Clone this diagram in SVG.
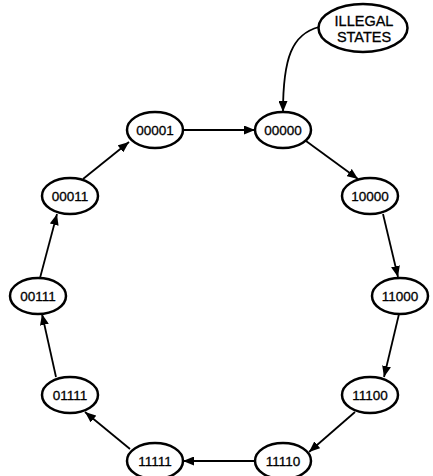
<svg xmlns="http://www.w3.org/2000/svg" width="433" height="476" viewBox="0 0 433 476">
<style>
.n ellipse{fill:#fff;stroke:#000;stroke-width:2.5}
.n text{font-family:"Liberation Sans",Arial,sans-serif;font-size:13.5px;text-anchor:middle;fill:#000;stroke:#000;stroke-width:0.3}
#edges path{fill:none;stroke:#000;stroke-width:1.8;marker-end:url(#ah)}
</style>
<defs>
<marker id="ah" viewBox="0 0 11 9" refX="11" refY="4.5" markerWidth="11" markerHeight="9" markerUnits="userSpaceOnUse" orient="auto">
<path d="M0,0 L11,4.5 L0,9 Z" fill="#000"/>
</marker>
</defs>
<rect width="433" height="476" fill="#fff"/>
<g id="edges">
<path d="M319,27 C292,34 283,58 283,112"/>
<path d="M183,130 L255,130"/>
<path d="M306,141 L358,179"/>
<path d="M383,214 L398,277"/>
<path d="M399,314 L384,377"/>
<path d="M355,412 L309,452"/>
<path d="M256,461 L183,461"/>
<path d="M130,449 L85,412"/>
<path d="M56,377 L42,314"/>
<path d="M40,278 L57,214"/>
<path d="M83,179 L129,142"/>
</g>
<g id="illegal" class="n"><ellipse cx="363" cy="28" rx="44.5" ry="24"/><text x="364" y="26" style="font-size:14.5px">ILLEGAL</text><text x="364" y="42" style="font-size:14.5px">STATES</text></g>
<g id="s00001" class="n"><ellipse cx="155" cy="130" rx="28" ry="18"/><text x="155" y="135">00001</text></g>
<g id="s00000" class="n"><ellipse cx="283" cy="130" rx="28" ry="18"/><text x="283" y="135">00000</text></g>
<g id="s10000" class="n"><ellipse cx="370" cy="196" rx="28" ry="18"/><text x="370" y="201">10000</text></g>
<g id="s11000" class="n"><ellipse cx="400" cy="296" rx="28" ry="18"/><text x="400" y="301">11000</text></g>
<g id="s11100" class="n"><ellipse cx="370" cy="395" rx="28" ry="18"/><text x="370" y="400">11100</text></g>
<g id="s11110" class="n"><ellipse cx="283" cy="461" rx="28" ry="18"/><text x="283" y="466">11110</text></g>
<g id="s11111" class="n"><ellipse cx="155" cy="461" rx="28" ry="18"/><text x="155" y="466">11111</text></g>
<g id="s01111" class="n"><ellipse cx="70" cy="395" rx="28" ry="18"/><text x="70" y="400">01111</text></g>
<g id="s00111" class="n"><ellipse cx="38" cy="296" rx="28" ry="18"/><text x="38" y="301">00111</text></g>
<g id="s00011" class="n"><ellipse cx="70" cy="196" rx="28" ry="18"/><text x="70" y="201">00011</text></g>
</svg>
